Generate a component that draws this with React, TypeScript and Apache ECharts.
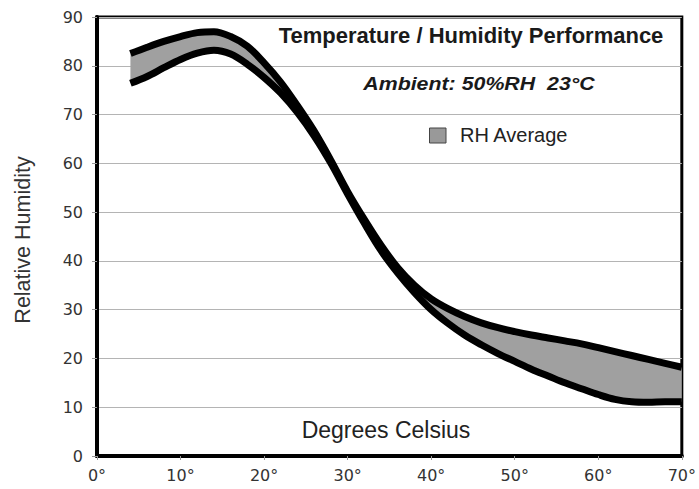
import React, { useEffect, useRef } from "react";
import * as echarts from "echarts";

const temps = [4, 6, 8, 10, 12, 14, 16, 18, 20, 22, 24, 26, 28, 30, 32, 34, 36, 38, 40, 42, 44, 46, 48, 50, 52, 54, 56, 58, 60, 62, 64, 66, 68, 70];
const upperRH = [82.5, 83.8, 85.0, 86.0, 86.8, 87.0, 86.0, 84.0, 80.6, 76.6, 71.8, 66.6, 60.6, 54.2, 48.5, 43.2, 38.6, 35.0, 32.2, 30.2, 28.6, 27.3, 26.3, 25.5, 24.8, 24.2, 23.6, 23, 22.2, 21.4, 20.6, 19.8, 19, 18.2];
const lowerRH = [76.4, 77.8, 79.6, 81.3, 82.6, 83.2, 82.4, 80.3, 77.6, 74.4, 70.4, 65.6, 60, 53.7, 47.7, 42.1, 37.5, 33.5, 30.0, 27.2, 24.8, 22.8, 21.0, 19.4, 17.8, 16.4, 15, 13.8, 12.6, 11.6, 11.1, 11.0, 11.1, 11.1];
const xTicks = [0, 10, 20, 30, 40, 50, 60, 70];
const yTicks = [0, 10, 20, 30, 40, 50, 60, 70, 80, 90];

const title = "Temperature / Humidity Performance";
const subtitle = "Ambient: 50%RH  23°C";
const legendLabel = "RH Average";
const xName = "Degrees Celsius";
const yName = "Relative Humidity";

export default function App() {
  const ref = useRef<HTMLDivElement>(null);
  useEffect(() => {
    document.body.style.margin = "0";
    if (!ref.current) return;
    const chart = echarts.init(ref.current, null, { renderer: "svg" });
    const lowerPts = temps.map((t, i) => [t, lowerRH[i]]);
    const upperPts = temps.map((t, i) => [t, upperRH[i]]);
    const smooth = 0.35;
    chart.setOption({
      animation: false,
      backgroundColor: "#fff",
      grid: {
        left: 97,
        right: 14,
        top: 17,
        bottom: 33,
        show: true,
        borderColor: "#000",
        borderWidth: 3,
        backgroundColor: "transparent",
      },
      xAxis: {
        type: "value",
        min: xTicks[0],
        max: xTicks[xTicks.length - 1],
        interval: 10,
        axisLine: { show: true, lineStyle: { color: "#000", width: 4 } },
        axisTick: { show: true, length: 4, lineStyle: { color: "#999" } },
        splitLine: { show: false },
        axisLabel: {
          formatter: (v: number) => `${v}°`,
          color: "#333",
          fontSize: 16,
          fontFamily: "DejaVu Sans",
          margin: 11,
        },
      },
      yAxis: {
        type: "value",
        min: yTicks[0],
        max: yTicks[yTicks.length - 1],
        interval: 10,
        axisLine: { show: true, lineStyle: { color: "#000", width: 4 } },
        axisTick: { show: true, length: 5, lineStyle: { color: "#999" } },
        splitLine: { show: true, lineStyle: { color: "#b4b4b4", width: 1 } },
        axisLabel: {
          color: "#333",
          fontSize: 16,
          fontFamily: "DejaVu Sans",
          margin: 14,
        },
      },
      series: [
        {
          name: legendLabel,
          type: "custom",
          data: [[temps[0], lowerRH[0]]],
          silent: true,
          renderItem: (params: any, api: any) => {
            const top = upperPts.map((p) => api.coord(p));
            const bottom = lowerPts.map((p) => api.coord(p)).reverse();
            return {
              type: "polygon",
              shape: { points: top.concat(bottom) },
              style: { fill: "#a0a0a0", stroke: "none" },
            };
          },
        },
        {
          type: "line",
          data: upperPts,
          smooth,
          symbol: "none",
          lineStyle: { color: "#000", width: 7, cap: "butt" },
        },
        {
          type: "line",
          data: lowerPts,
          smooth,
          symbol: "none",
          lineStyle: { color: "#000", width: 7, cap: "butt" },
        },
      ],
      graphic: [
        {
          type: "text",
          x: 471,
          y: 35,
          style: {
            text: title,
            align: "center",
            verticalAlign: "middle",
            font: "bold 22px 'Liberation Sans'",
            fill: "#1a1a1a",
          },
        },
        {
          type: "text",
          x: 479,
          y: 84,
          scaleX: 1.22,
          style: {
            text: subtitle,
            align: "center",
            verticalAlign: "middle",
            font: "italic bold 17.5px 'Liberation Sans'",
            fill: "#1a1a1a",
          },
        },
        {
          type: "rect",
          shape: { x: 429.5, y: 128, width: 16.5, height: 15 },
          style: { fill: "#999", stroke: "#444", lineWidth: 1 },
        },
        {
          type: "text",
          x: 460,
          y: 135,
          style: {
            text: legendLabel,
            align: "left",
            verticalAlign: "middle",
            font: "20px 'Liberation Sans'",
            fill: "#222",
          },
        },
        {
          type: "text",
          x: 386,
          y: 430,
          style: {
            text: xName,
            align: "center",
            verticalAlign: "middle",
            font: "23px 'Liberation Sans'",
            fill: "#222",
          },
        },
        {
          type: "text",
          x: 23,
          y: 240,
          rotation: Math.PI / 2,
          style: {
            text: yName,
            align: "center",
            verticalAlign: "middle",
            font: "21.5px 'Liberation Sans'",
            fill: "#333",
          },
        },
      ],
    });
    return () => chart.dispose();
  }, []);
  return <div ref={ref} style={{ width: 699, height: 489 }} />;
}
